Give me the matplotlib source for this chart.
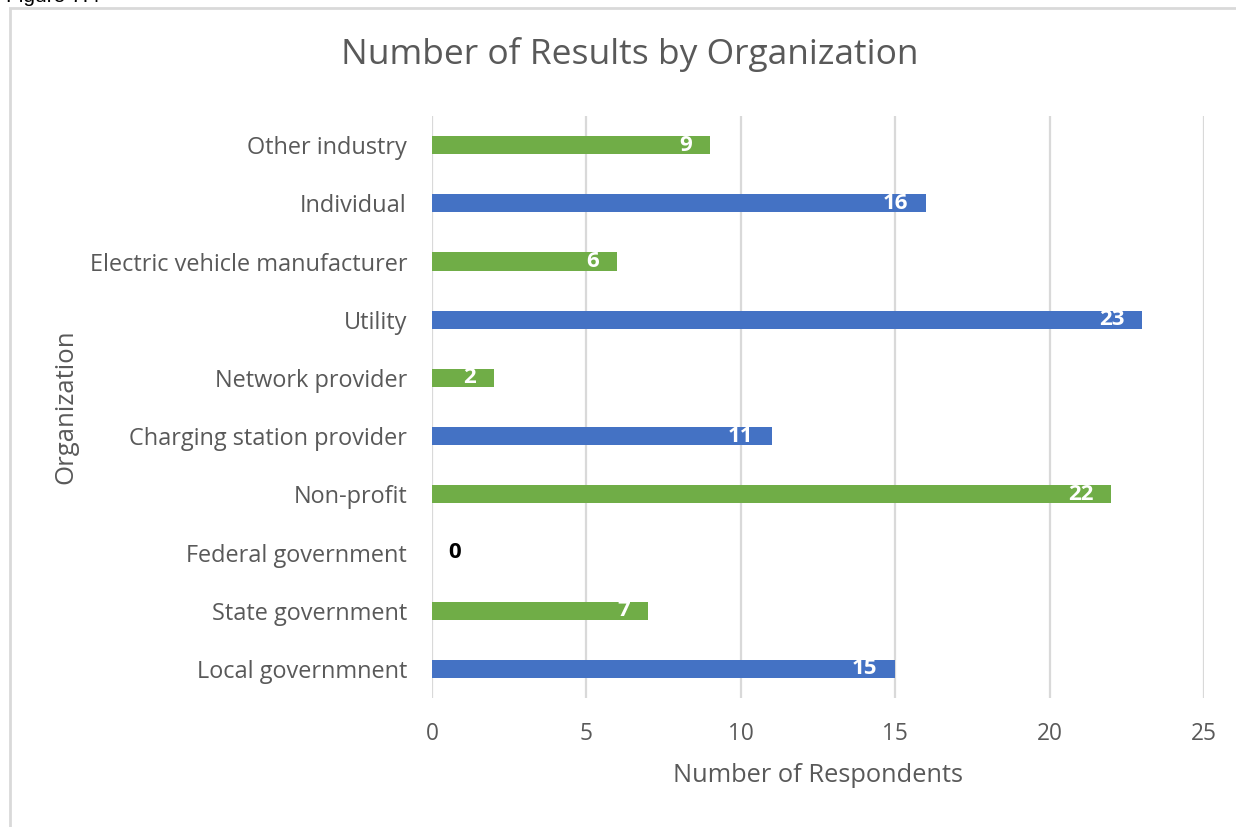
import matplotlib
matplotlib.use("Agg")
import matplotlib.pyplot as plt
from matplotlib.patches import Rectangle

categories = ["Local governmnent", "State government", "Federal government", "Non-profit",
              "Charging station provider", "Network provider", "Utility",
              "Electric vehicle manufacturer", "Individual", "Other industry"]
values = [15, 7, 0, 22, 11, 2, 23, 6, 16, 9]
colors_by_cat = ["#4472C4", "#70AD47", "#70AD47", "#70AD47", "#4472C4",
                 "#70AD47", "#4472C4", "#70AD47", "#4472C4", "#70AD47"]
xticks = [0, 5, 10, 15, 20, 25]

plt.rcParams['font.family'] = ['Open Sans', 'DejaVu Sans']

W, H = 1236, 827
fig = plt.figure(figsize=(W / 100, H / 100), dpi=100)
ax = fig.add_axes([432 / W, 1 - 698 / H, (1204 - 432) / W, (698 - 116) / H])

y = list(range(len(categories)))
ax.barh(y, values, height=0.31, color=colors_by_cat, zorder=3)
ax.set_ylim(-0.5, len(categories) - 0.5)
ax.set_xlim(0, 25)
ax.set_xticks(xticks)
ax.set_yticks(y)
ax.set_yticklabels(categories)
ax.tick_params(axis='both', length=0, colors="#595959")
ax.tick_params(axis='y', pad=18, labelsize=16.9)
ax.tick_params(axis='x', pad=17, labelsize=16.3)
ax.grid(axis='x', color="#D9D9D9", linewidth=1.6, zorder=0)
for s in ax.spines.values():
    s.set_visible(False)

for yi, v in zip(y, values):
    if v == 0:
        ax.annotate(str(v), (v, yi), xytext=(12, 0), textcoords='offset points',
                    ha='left', va='center', color='black', fontweight='bold', fontsize=16)
    else:
        ax.annotate(str(v), (v, yi), xytext=(-13, 0), textcoords='offset points',
                    ha='right', va='center', color='white', fontweight='bold', fontsize=16)

fig.text(818 / W, 1 - 776 / H, "Number of Respondents", fontsize=18.3, color="#595959",
         ha='center', va='center')
fig.text(66 / W, 1 - 407 / H, "Organization", rotation=90, fontsize=18.5, color="#595959",
         ha='center', va='center')
fig.text(630 / W, 1 - 55 / H, "Number of Results by Organization", fontsize=25.5,
         color="#595959", ha='center', va='center')

fig.patches.append(Rectangle((10 / W, -0.1), 1.2, 1 - 8 / H + 0.1, transform=fig.transFigure,
                             fill=False, edgecolor="#D9D9D9", linewidth=2))
fig.text(6 / W, 1 - 2 / H, "Figure 7.4", fontsize=15, color="black", ha='left', va='baseline',
         family=['Liberation Sans', 'DejaVu Sans'])

fig.savefig("out.png", dpi=100)
